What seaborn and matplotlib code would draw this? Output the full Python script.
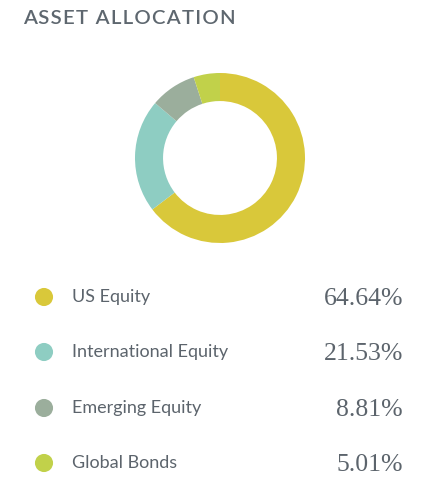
import matplotlib
matplotlib.use("Agg")
import matplotlib.pyplot as plt
import seaborn as sns
import pandas as pd

# data
categories = ["US Equity", "International Equity", "Emerging Equity", "Global Bonds"]
shares = [64.64, 21.53, 8.81, 5.01]
colors = ["#D9C83A", "#8ECDC2", "#9BAE9C", "#C1D14A"]
rows = [297, 352, 408, 463]

TEXT = "#5C646C"

sns.set_theme(style="white")
plt.rcParams["font.family"] = ["Lato", "DejaVu Sans"]

fig = plt.figure(figsize=(4.4, 5.0), dpi=100)

# title, spaced out a little by hand
fig.text(23 / 440, 1 - 18 / 500, "\u200a".join("ASSET ALLOCATION"),
         fontsize=14.7, fontweight="semibold", color="#5E676F", va="center", ha="left")

# donut
ax_pie = fig.add_axes([135 / 440, 1 - 243 / 500, 170 / 440, 170 / 500])
ax_pie.pie(shares, colors=colors, startangle=90, counterclock=False,
           radius=1.0, wedgeprops=dict(width=0.33, edgecolor="none"))
ax_pie.set_xlim(-1, 1)
ax_pie.set_ylim(-1, 1)
ax_pie.set_aspect("equal")
ax_pie.axis("off")

# legend rows
legend_df = pd.DataFrame({"category": categories, "share": shares, "row": rows})
ax_leg = fig.add_axes([0, 0, 1, 1], zorder=-1)
sns.scatterplot(data=legend_df, x=[44] * len(legend_df), y="row", hue="category",
                palette=colors, s=170, linewidth=0, legend=False, ax=ax_leg)
ax_leg.set_xlim(0, 440)
ax_leg.set_ylim(500, 0)
ax_leg.axis("off")
for _, r in legend_df.iterrows():
    ax_leg.text(72, r["row"], r["category"], fontsize=13, color=TEXT,
                va="center", ha="left")
    ax_leg.text(403, r["row"] + 2, f"{r['share']:.2f}%", fontsize=18.5, color=TEXT,
                va="center", ha="right", family=["Liberation Serif", "DejaVu Serif"])

fig.savefig("out.png", dpi=100, facecolor="white")
